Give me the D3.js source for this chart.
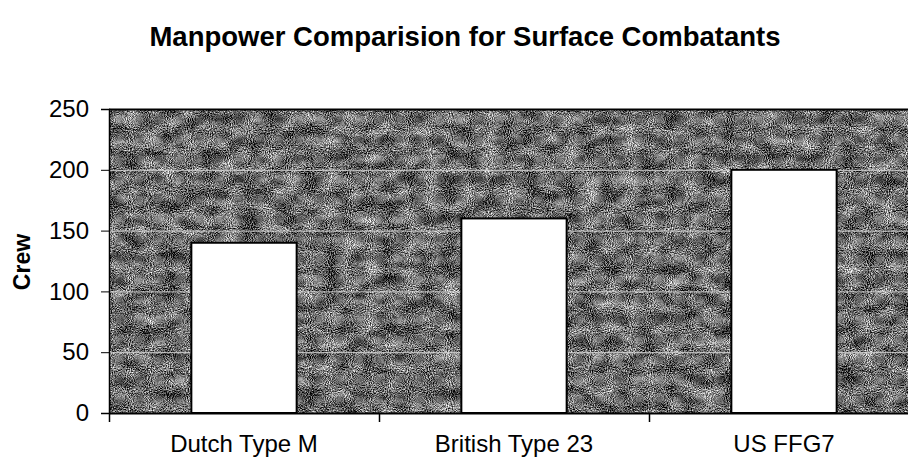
<!DOCTYPE html>
<html>
<head>
<meta charset="utf-8">
<script src="https://cdn.jsdelivr.net/npm/d3@7"></script>
<style>
  body { margin: 0; background: #fff; }
  svg { display: block; font-family: "Liberation Sans", Arial, sans-serif; }
</style>
</head>
<body>
<svg id="chart" width="908" height="460"></svg>
<script>
// chart data
var categories = ['Dutch Type M', 'British Type 23', 'US FFG7'];
var crew = [140, 160, 200];
var yTicks = [0, 50, 100, 150, 200, 250];
var title = 'Manpower Comparision for Surface Combatants';
var yTitle = 'Crew';

var svg = d3.select('#chart');
var plotLeft = 109, plotRight = 919, plotTop = 109, plotBottom = 413;

var x = d3.scaleBand().domain(categories).range([plotLeft, plotRight]).paddingInner(0.61).paddingOuter(0.305);
var xOuter = d3.scaleBand().domain(categories).range([plotLeft, plotRight]);
var y = d3.scaleLinear().domain([0, 250]).range([plotBottom, plotTop]);

// grainy plot-area texture
var defs = svg.append('defs');
var f = defs.append('filter').attr('id', 'grain')
    .attr('x', 0).attr('y', 0).attr('width', 1).attr('height', 1)
    .attr('color-interpolation-filters', 'sRGB');
f.append('feTurbulence').attr('type', 'fractalNoise').attr('baseFrequency', 0.95)
    .attr('numOctaves', 1).attr('seed', 4).attr('result', 't1');
f.append('feColorMatrix').attr('in', 't1').attr('type', 'matrix')
    .attr('values', '1 0 0 0 0  1 0 0 0 0  1 0 0 0 0  0 0 0 0 1').attr('result', 'n1');
f.append('feTurbulence').attr('type', 'fractalNoise').attr('baseFrequency', '0.05 0.08')
    .attr('numOctaves', 3).attr('seed', 11).attr('result', 't2');
f.append('feColorMatrix').attr('in', 't2').attr('type', 'matrix')
    .attr('values', '1 0 0 0 0  1 0 0 0 0  1 0 0 0 0  0 0 0 0 1').attr('result', 'n2');
f.append('feComposite').attr('in', 'n1').attr('in2', 'n2').attr('operator', 'arithmetic')
    .attr('k1', 0).attr('k2', 1.7).attr('k3', 0.7).attr('k4', -0.78);

svg.append('rect')
    .attr('x', plotLeft).attr('y', plotTop)
    .attr('width', plotRight - plotLeft).attr('height', plotBottom - plotTop)
    .attr('filter', 'url(#grain)');

// gridlines
svg.append('g').selectAll('line')
    .data(yTicks.filter(function(d) { return d > 0 && d < 250; }))
  .enter().append('line')
    .attr('x1', plotLeft).attr('x2', plotRight)
    .attr('y1', function(d) { return y(d) + 0.5; })
    .attr('y2', function(d) { return y(d) + 0.5; })
    .attr('stroke', '#d0d0d0').attr('stroke-width', 1);

// top border
svg.append('line')
    .attr('x1', plotLeft).attr('x2', plotRight)
    .attr('y1', plotTop + 0.5).attr('y2', plotTop + 0.5)
    .attr('stroke', '#000').attr('stroke-width', 2);

// bars
svg.append('g').selectAll('rect')
    .data(crew)
  .enter().append('rect')
    .attr('x', function(d, i) { return x(categories[i]); })
    .attr('y', function(d) { return y(d); })
    .attr('width', x.bandwidth())
    .attr('height', function(d) { return plotBottom - y(d); })
    .attr('fill', '#fff').attr('stroke', '#000').attr('stroke-width', 2);

// y axis
var yAxis = svg.append('g')
    .attr('transform', 'translate(' + plotLeft + ',0)')
    .call(d3.axisLeft(y).tickValues(yTicks).tickSize(8).tickPadding(12));
yAxis.select('.domain').attr('stroke-width', 1.5);
yAxis.selectAll('text').attr('font-size', 24).attr('fill', '#000')
    .attr('font-family', '"Liberation Sans", Arial, sans-serif');

// x axis
var xAxis = svg.append('g')
    .attr('transform', 'translate(0,' + plotBottom + ')')
    .call(d3.axisBottom(xOuter).tickSize(0).tickPadding(22));
xAxis.select('.domain').attr('stroke-width', 2);
xAxis.selectAll('text').attr('font-size', 24).attr('fill', '#000')
    .attr('font-family', '"Liberation Sans", Arial, sans-serif');
xAxis.selectAll('line.sep')
    .data(categories)
  .enter().append('line').attr('class', 'sep')
    .attr('x1', function(d) { return xOuter(d) + 0.5; })
    .attr('x2', function(d) { return xOuter(d) + 0.5; })
    .attr('y1', 0).attr('y2', 9)
    .attr('stroke', '#000').attr('stroke-width', 1.5);

// titles
svg.append('text')
    .attr('x', 465).attr('y', 46)
    .attr('text-anchor', 'middle')
    .attr('font-size', 27.5).attr('font-weight', 'bold')
    .text(title);

svg.append('text')
    .attr('transform', 'translate(30,262) rotate(-90)')
    .attr('text-anchor', 'middle')
    .attr('font-size', 23).attr('font-weight', 'bold')
    .text(yTitle);
</script>
</body>
</html>
